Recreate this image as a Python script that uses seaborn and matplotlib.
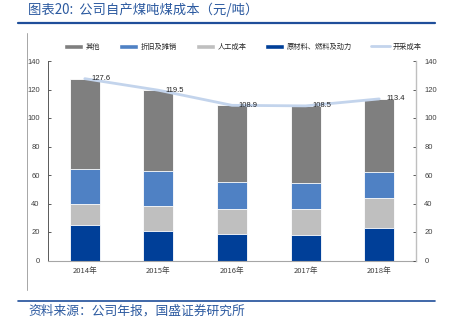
import numpy as np
import pandas as pd
import matplotlib
matplotlib.use("Agg")
import matplotlib.pyplot as plt
import seaborn as sns
from matplotlib.patches import Patch
from matplotlib.lines import Line2D

years = ["2014年", "2015年", "2016年", "2017年", "2018年"]
raw_material = [24.7, 20.7, 18.4, 17.9, 22.8]   # 原材料、燃料及动力
labor = [15.2, 17.3, 17.5, 18.5, 21.3]          # 人工成本
depreciation = [24.3, 24.6, 19.4, 17.8, 18.2]   # 折旧及摊销
other = [63.4, 56.9, 53.6, 54.3, 51.1]          # 其他
mining_cost = [127.6, 119.5, 108.9, 108.5, 113.4]  # 开采成本
yticks = [0, 20, 40, 60, 80, 100, 120, 140]

series_names = ["原材料、燃料及动力", "人工成本", "折旧及摊销", "其他"]
colors = {"其他": "#7f7f7f", "折旧及摊销": "#4f81c4", "人工成本": "#bfbfbf",
          "原材料、燃料及动力": "#003f98"}
line_color = "#c3d4ec"

sns.set_style("white")
plt.rcParams["font.family"] = ["Noto Sans CJK SC", "DejaVu Sans"]

df = pd.DataFrame({"year": years, "原材料、燃料及动力": raw_material, "人工成本": labor,
                   "折旧及摊销": depreciation, "其他": other})
cum = df[series_names].cumsum(axis=1)

W, H = 453, 326
fig = plt.figure(figsize=(W / 100, H / 100), dpi=100)
ax = fig.add_axes([48 / W, 1 - 260.5 / H, (416 - 48) / W, (260.5 - 61) / H])

for name in reversed(series_names):
    sns.barplot(x=df["year"], y=cum[name], color=colors[name], ax=ax, width=0.41,
                edgecolor="white", linewidth=0.6, saturation=1, order=years)

xpos = np.arange(len(years))
sns.lineplot(x=xpos, y=mining_cost, ax=ax, color=line_color, linewidth=2.0, zorder=5)
for i, v in enumerate(mining_cost):
    ax.annotate(f"{v}", (xpos[i], v), xytext=(5, 0), textcoords="offset points",
                va="center", ha="left", fontsize=5.5, color="#222222",
                family=["Liberation Sans", "DejaVu Sans"], zorder=6)

ax.set_ylim(0, 140)
ax.set_xlim(-0.5, len(years) - 0.5)
ax.set_yticks(yticks)
ax.set_xlabel("")
ax.set_ylabel("")
ax.set_xticks(xpos)
ax.set_xticklabels(years)
ax.tick_params(axis="x", length=0, labelsize=5.5, colors="#404040", pad=5)
ax.tick_params(axis="y", direction="in", length=2.5, labelsize=5.5,
               colors="#404040", pad=6, width=0.6)
ax.set_xticks(np.arange(len(years) + 1) - 0.5, minor=True)
ax.tick_params(axis="x", which="minor", direction="in", length=2.5, color="#7f7f7f", width=0.6)
for lab in ax.get_yticklabels():
    lab.set_family(["Liberation Sans", "DejaVu Sans"])
for s in ["top", "right"]:
    ax.spines[s].set_visible(False)
ax.spines["left"].set_color("#595959")
ax.spines["left"].set_linewidth(0.7)
ax.spines["bottom"].set_color("#a6a6a6")
ax.spines["bottom"].set_linewidth(0.8)

ax2 = ax.twinx()
ax2.set_ylim(0, 140)
ax2.set_yticks(yticks)
ax2.tick_params(axis="y", direction="in", length=2.5, labelsize=5.5,
                colors="#404040", pad=6, width=0.6)
for lab in ax2.get_yticklabels():
    lab.set_family(["Liberation Sans", "DejaVu Sans"])
for s in ["top", "left", "bottom"]:
    ax2.spines[s].set_visible(False)
ax2.spines["right"].set_color("#bfbfbf")
ax2.spines["right"].set_linewidth(1.0)

handles = [Patch(facecolor=colors["其他"], label="其他"),
           Patch(facecolor=colors["折旧及摊销"], label="折旧及摊销"),
           Patch(facecolor=colors["人工成本"], label="人工成本"),
           Patch(facecolor=colors["原材料、燃料及动力"], label="原材料、燃料及动力"),
           Line2D([0], [0], color=line_color, lw=2, label="开采成本")]
fig.legend(handles=handles, loc="center", bbox_to_anchor=(243 / W, 1 - 47 / H), ncol=5,
           frameon=False, fontsize=5.2, handlelength=2.6, handleheight=0.7,
           columnspacing=2.6, handletextpad=0.4)

blue = "#1f4e9a"
fig.text(28 / W, 1 - 10 / H, "图表20:  公司自产煤吨煤成本（元/吨）", fontsize=9.6,
         color="#2c5aa0", style="italic", va="center", ha="left")
fig.add_artist(Line2D([18 / W, 435 / W], [1 - 23 / H] * 2, color=blue, lw=1.6))
fig.add_artist(Line2D([18 / W, 435 / W], [1 - 301 / H] * 2, color=blue, lw=1.2))
fig.add_artist(Line2D([27 / W, 27 / W], [1 - 33 / H, 1 - 290 / H], color="#a6a6a6", lw=0.7))
fig.text(28 / W, 1 - 311 / H, "资料来源：公司年报，国盛证券研究所", fontsize=9.2,
         color="#2c5aa0", style="italic", va="center", ha="left")

fig.savefig("out.png", dpi=100)
